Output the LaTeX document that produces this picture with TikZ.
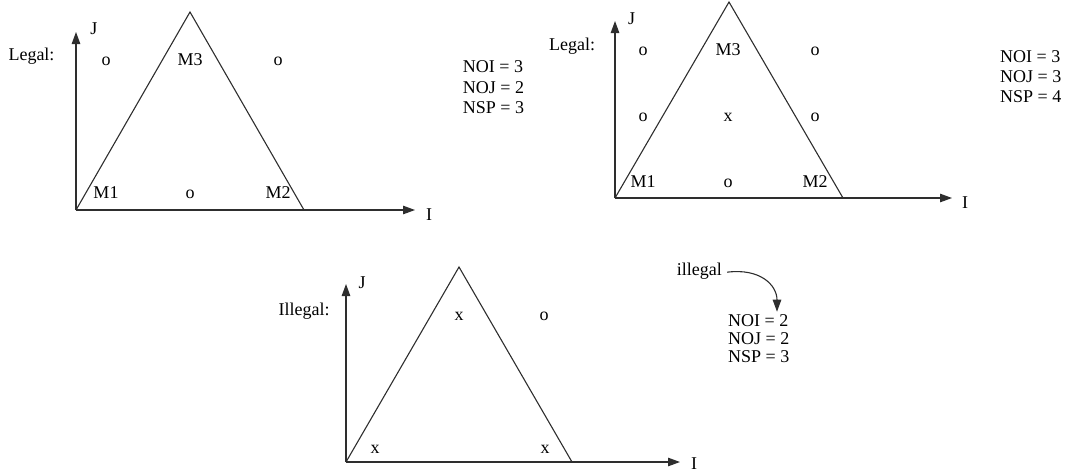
\documentclass[tikz,border=0pt]{standalone}
\usepackage{fontspec}
\setmainfont{Liberation Serif}
\usetikzlibrary{arrows.meta}
\tikzset{
  lbl/.style={anchor=base, inner sep=0pt, font=\fontsize{18}{20}\selectfont},
  lblw/.style={anchor=base west, inner sep=0pt, font=\fontsize{18}{20}\selectfont},
  ln/.style={line width=1.1pt, draw=black!82},
  axis/.style={ln, -{Triangle[length=12pt,width=8.5pt]}},
  tri/.style={ln, line join=miter},
}
\begin{document}
\begin{tikzpicture}[x=1pt,y=-1pt]
\useasboundingbox (0,0) rectangle (1065,472);

% ---------------- Panel 1 ----------------
\coordinate (o1) at (76,210);
\coordinate (yt1) at (76,32);
\coordinate (xt1) at (415,210);
\draw[axis] (o1) -- (yt1);
\draw[axis] (o1) -- (xt1);
\draw[tri] (76,210) -- (190,12) -- (304,210);
\node[lbl] (legal1) at (31.5,60) {Legal:};
\node[lbl] (j1) at (94,34) {J};
\node[lbl] (i1) at (429,220) {I};
\node[lbl] (p1a) at (106,65) {o};
\node[lbl] (p1b) at (190,65) {M3};
\node[lbl] (p1c) at (278,65) {o};
\node[lbl] (p1d) at (106,198) {M1};
\node[lbl] (p1e) at (190,198) {o};
\node[lbl] (p1f) at (278,198) {M2};
\node[lblw] (noi1) at (462.7,72.7) {NOI = 3};
\node[lblw] (noj1) at (462.7,93) {NOJ = 2};
\node[lblw] (nsp1) at (462.7,113.3) {NSP = 3};

% ---------------- Panel 2 ----------------
\coordinate (o2) at (615,198);
\coordinate (yt2) at (615,21);
\coordinate (xt2) at (952,198);
\draw[axis] (o2) -- (yt2);
\draw[axis] (o2) -- (xt2);
\draw[tri] (615,198) -- (729,2) -- (843,198);
\node[lbl] (legal2) at (572,50) {Legal:};
\node[lbl] (j2) at (631.5,24.5) {J};
\node[lbl] (i2) at (965,208) {I};
\node[lbl] (p2a) at (643,55) {o};
\node[lbl] (p2b) at (728,55) {M3};
\node[lbl] (p2c) at (815,55) {o};
\node[lbl] (p2d) at (643,121.7) {o};
\node[lbl] (p2e) at (728,121.7) {x};
\node[lbl] (p2f) at (815,121.7) {o};
\node[lbl] (p2g) at (643,187) {M1};
\node[lbl] (p2h) at (728,187) {o};
\node[lbl] (p2i) at (815,187) {M2};
\node[lblw] (noi2) at (1000,62) {NOI = 3};
\node[lblw] (noj2) at (1000,82) {NOJ = 3};
\node[lblw] (nsp2) at (1000,102) {NSP = 4};

% ---------------- Panel 3 ----------------
\coordinate (o3) at (346,462);
\coordinate (yt3) at (346,284);
\coordinate (xt3) at (680,462);
\draw[axis] (o3) -- (yt3);
\draw[axis] (o3) -- (xt3);
\draw[tri] (346,462) -- (459,267) -- (572,462);
\node[lbl] (illegal3) at (304,315) {Illegal:};
\node[lbl] (j3) at (362,288) {J};
\node[lbl] (i3) at (694,469) {I};
\node[lbl] (p3a) at (459,320) {x};
\node[lbl] (p3b) at (544,320) {o};
\node[lbl] (p3c) at (375,453) {x};
\node[lbl] (p3d) at (545,453) {x};
\node[lblw] (ill) at (676.7,275) {illegal};
\node[lblw] (noi3) at (728,326) {NOI = 2};
\node[lblw] (noj3) at (728,344.3) {NOJ = 2};
\node[lblw] (nsp3) at (728,362.7) {NSP = 3};
\coordinate (arrEnd) at (777,311.7);
\draw[axis] ([xshift=5pt,yshift=-1.5pt]ill.east) .. controls (760,268) and (777,285) .. (arrEnd);
\end{tikzpicture}
\end{document}
